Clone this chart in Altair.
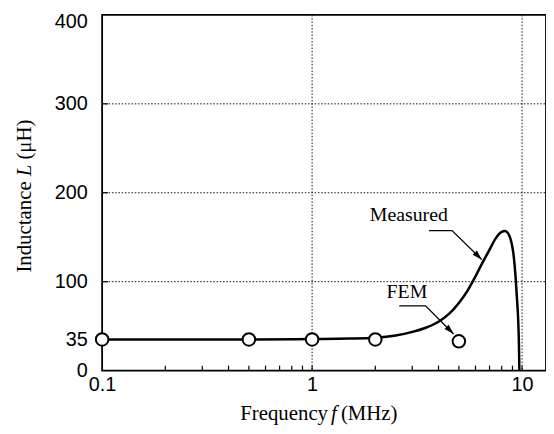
import altair as alt
import pandas as pd

# Measured curve (frequency MHz, inductance uH)
meas_f = [0.1, 0.5, 1, 1.5, 2, 2.5, 3, 3.5, 4, 4.5, 5, 5.5, 6, 6.5, 7, 7.5, 8, 8.3, 8.6, 8.9, 9.1, 9.3, 9.45, 9.57, 9.65, 9.71]
meas_L = [35, 35, 35.5, 36, 37, 39.5, 43.5, 48.5, 55, 64, 76, 90, 106, 122, 136, 149, 156, 157, 154, 144, 131, 107, 82, 60, 35, 0]

# FEM points
fem_f = [0.1, 0.5, 1, 2, 5]
fem_L = [35, 35, 35, 35, 33]

x_label_values = [0.1, 1, 10]
y_label_values = [0, 35, 100, 200, 300, 400]
x_grid = [1, 10]
y_grid = [100, 200, 300]
x_ticks = [0.2, 0.3, 0.4, 0.5, 0.6, 0.7, 0.8, 0.9, 1, 2, 3, 4, 5, 6, 7, 8, 9, 10]
y_ticks = [35, 100, 200, 300]

ann_text = ["Measured", "FEM"]
ann_text_f = [2.89, 2.83]
ann_text_L = [175, 88]

lead_name = ["Measured", "Measured", "Measured", "FEM", "FEM", "FEM"]
lead_order = [0, 1, 2, 0, 1, 2]
lead_f = [3.60, 4.64, 6.43, 2.60, 3.47, 4.72]
lead_L = [157.4, 157.4, 124.8, 72.8, 72.8, 41.2]

tip_name = ["Measured", "FEM"]
tip_f = [6.43, 4.72]
tip_L = [124.8, 41.2]

# axis title pieces (plain, italic symbol, unit)
x_title = ["Frequency", "f", "(MHz)"]
y_title = ["Inductance", "L", "(μH)"]

W, H = 448, 359
xs = alt.Scale(type="log", domain=[0.1, 13], nice=False)
ys = alt.Scale(domain=[0, 400], nice=False)

meas = pd.DataFrame({"f": meas_f, "L": meas_L})
fem = pd.DataFrame({"f": fem_f, "L": fem_L})

xaxis = alt.Axis(values=x_label_values, format="~g", title="",
                 labelPadding=4, labelFlush=False)
yaxis = alt.Axis(values=y_label_values, title="",
                 labelPadding=15, labelFlush=False,
                 labelOffset={"condition": {"test": "datum.value === 400", "value": 7}, "value": 0})

base_line = alt.Chart(meas).mark_line(color="black", strokeWidth=2.5, interpolate="monotone").encode(
    x=alt.X("f:Q", scale=xs, axis=xaxis),
    y=alt.Y("L:Q", scale=ys, axis=yaxis),
)

vgrid = alt.Chart(pd.DataFrame({"f": x_grid})).mark_rule(
    color="#111", strokeWidth=1, strokeDash=[1.5, 1.8]).encode(
    x=alt.X("f:Q", scale=xs), y=alt.value(0), y2=alt.value(H))
hgrid = alt.Chart(pd.DataFrame({"L": y_grid})).mark_rule(
    color="#111", strokeWidth=1, strokeDash=[1.5, 1.8]).encode(
    y=alt.Y("L:Q", scale=ys), x=alt.value(0), x2=alt.value(W))

xt = alt.Chart(pd.DataFrame({"f": x_ticks})).mark_rule(color="black", strokeWidth=1.2).encode(
    x=alt.X("f:Q", scale=xs), y=alt.value(H), y2=alt.value(H - 5))
yt = alt.Chart(pd.DataFrame({"L": y_ticks})).mark_rule(color="black", strokeWidth=1.2).encode(
    y=alt.Y("L:Q", scale=ys), x=alt.value(0), x2=alt.value(6))

pts = alt.Chart(fem).mark_point(shape="circle", filled=True, fill="white", stroke="black",
                                strokeWidth=2, size=160, opacity=1).encode(
    x=alt.X("f:Q", scale=xs), y=alt.Y("L:Q", scale=ys))

txt = alt.Chart(pd.DataFrame({"t": ann_text, "f": ann_text_f, "L": ann_text_L})).mark_text(
    font="Liberation Serif", fontSize=20, color="black", align="center", baseline="middle").encode(
    x=alt.X("f:Q", scale=xs), y=alt.Y("L:Q", scale=ys), text="t:N")

lead = alt.Chart(pd.DataFrame({"n": lead_name, "o": lead_order, "f": lead_f, "L": lead_L})).mark_line(
    color="black", strokeWidth=1.3).encode(
    x=alt.X("f:Q", scale=xs), y=alt.Y("L:Q", scale=ys), detail="n:N", order="o:Q")

tips = alt.Chart(pd.DataFrame({"n": tip_name, "f": tip_f, "L": tip_L})).mark_point(
    shape="M0,0L-0.3,1L0.3,1Z", filled=True, color="black", opacity=1, size=400, angle=135).encode(
    x=alt.X("f:Q", scale=xs), y=alt.Y("L:Q", scale=ys))

# axis titles as text so the symbol can be italic
tfont = dict(font="Liberation Serif", fontSize=21, color="black", baseline="alphabetic")
xt1 = alt.Chart(pd.DataFrame({"t": [x_title[0]]})).mark_text(align="right", **tfont).encode(
    text="t:N", x=alt.value(228), y=alt.value(409))
xt2 = alt.Chart(pd.DataFrame({"t": [x_title[1]]})).mark_text(align="center", fontStyle="italic", **tfont).encode(
    text="t:N", x=alt.value(234), y=alt.value(409))
xt3 = alt.Chart(pd.DataFrame({"t": [x_title[2]]})).mark_text(align="left", **tfont).encode(
    text="t:N", x=alt.value(241), y=alt.value(409))

yt1 = alt.Chart(pd.DataFrame({"t": [y_title[0]]})).mark_text(align="right", angle=270, **tfont).encode(
    text="t:N", x=alt.value(-72), y=alt.value(168))
yt2 = alt.Chart(pd.DataFrame({"t": [y_title[1]]})).mark_text(align="center", angle=270, fontStyle="italic", **tfont).encode(
    text="t:N", x=alt.value(-72), y=alt.value(157))
yt3 = alt.Chart(pd.DataFrame({"t": [y_title[2]]})).mark_text(align="left", angle=270, **tfont).encode(
    text="t:N", x=alt.value(-72), y=alt.value(146))

chart = alt.layer(vgrid, hgrid, xt, yt, base_line, lead, tips, pts, txt,
                  xt1, xt2, xt3, yt1, yt2, yt3).properties(
    width=W, height=H,
    autosize=alt.AutoSizeParams(type="none"),
    padding={"left": 95, "top": 5, "right": 0, "bottom": 62},
).configure_view(
    stroke="black", strokeWidth=1.8
).configure_axis(
    grid=False, domain=False, ticks=False,
    labelFont="Liberation Sans", labelFontSize=20, labelColor="black",
)

chart.save("out.html", embed_options={"renderer": "svg", "actions": False})
